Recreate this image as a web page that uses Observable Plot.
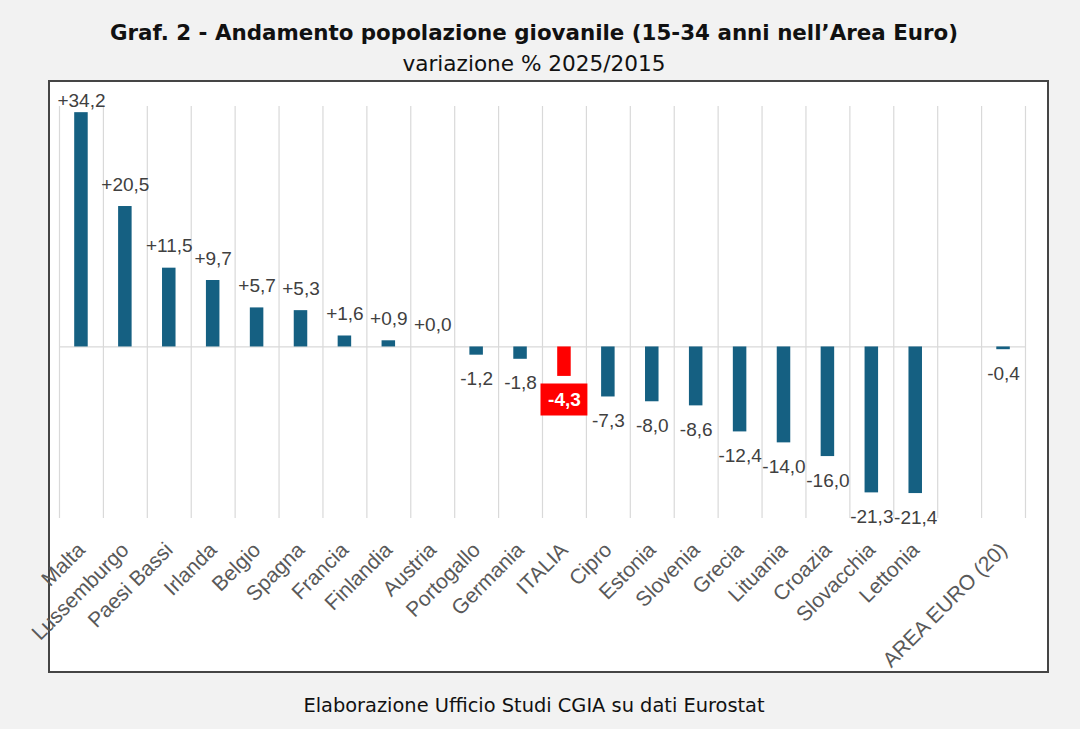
<!DOCTYPE html>
<html>
<head>
<meta charset="utf-8">
<script src="https://cdn.jsdelivr.net/npm/d3@7"></script>
<script src="https://cdn.jsdelivr.net/npm/@observablehq/plot@0.6"></script>
<style>
  html, body { margin: 0; padding: 0; background: #f2f2f2; }
  body { width: 1080px; height: 729px; position: relative; overflow: hidden; }
  .t { position: absolute; left: 0; width: 1068px; text-align: center; color: #111; font-family: "DejaVu Sans", Verdana, sans-serif; line-height: normal; white-space: nowrap; }
  #title { top: 20px; font-size: 21.4px; font-weight: bold; }
  #subtitle { top: 51px; font-size: 21.6px; }
  #caption { top: 694px; font-size: 19.4px; }
  #box { position: absolute; left: 48px; top: 80px; width: 1001px; height: 593px; box-sizing: border-box; border: 2px solid #454545; background: #fff; }
  #chart { position: absolute; left: 0; top: 0; }
</style>
</head>
<body>
<div class="t" id="title">Graf. 2 - Andamento popolazione giovanile (15-34 anni nell’Area Euro)</div>
<div class="t" id="subtitle">variazione % 2025/2015</div>
<div id="box"><div id="chart"></div></div>
<div class="t" id="caption">Elaborazione Ufficio Studi CGIA su dati Eurostat</div>
<script>
// ---- data ----
const countries = ["Malta","Lussemburgo","Paesi Bassi","Irlanda","Belgio","Spagna","Francia","Finlandia","Austria","Portogallo","Germania","ITALIA","Cipro","Estonia","Slovenia","Grecia","Lituania","Croazia","Slovacchia","Lettonia","AREA EURO (20)"];
const values = [34.2, 20.5, 11.5, 9.7, 5.7, 5.3, 1.6, 0.9, 0.0, -1.2, -1.8, -4.3, -7.3, -8.0, -8.6, -12.4, -14.0, -16.0, -21.3, -21.4, -0.4];
const xOrder = ["Malta","Lussemburgo","Paesi Bassi","Irlanda","Belgio","Spagna","Francia","Finlandia","Austria","Portogallo","Germania","ITALIA","Cipro","Estonia","Slovenia","Grecia","Lituania","Croazia","Slovacchia","Lettonia"," ","AREA EURO (20)"];
const highlight = ["ITALIA"];

const data = countries.map((c, i) => ({name: c, value: values[i]}));
const fmt = v => (v >= 0 ? "+" : "") + v.toFixed(1).replace(".", ",");

const W = 997, H = 589;
const mL = 9, mR = 22, mT = 24, mB = 153;
const step = (W - mL - mR) / xOrder.length;
const blue = "#156082", red = "#ff0000", txt = "#404040", tick = "#595959", grid = "#d9d9d9";

const isHi = d => highlight.includes(d.name);
const plot = Plot.plot({
  width: W, height: H,
  marginLeft: mL, marginRight: mR, marginTop: mT, marginBottom: mB,
  style: {background: "transparent", fontFamily: "'Liberation Sans', Arial, sans-serif", color: txt, overflow: "visible"},
  x: {domain: xOrder, padding: 0, round: false, axis: null, label: null},
  y: {domain: [-25.04, 35.1], axis: null},
  marks: [
    Plot.ruleX(xOrder, {x: d => d, dx: -step / 2, stroke: grid, strokeWidth: 1.2}),
    Plot.ruleX(xOrder.slice(-1), {x: d => d, dx: step / 2, stroke: grid, strokeWidth: 1.2}),
    Plot.ruleY([0], {stroke: grid, strokeWidth: 1.2}),
    Plot.barY(data, {x: "name", y: "value", fill: d => isHi(d) ? red : blue, insetLeft: 15.2, insetRight: 15.2}),
    // positive labels
    Plot.text(data.filter(d => d.value >= 0 && d.value < 30), {x: "name", y: "value", text: d => fmt(d.value), dy: -22, fontSize: 19, fill: txt}),
    Plot.text(data.filter(d => d.value >= 30), {x: "name", frameAnchor: "top", lineAnchor: "middle", text: d => fmt(d.value), dy: -6, fontSize: 19, fill: txt}),
    // negative labels
    Plot.text(data.filter(d => d.value < 0 && !isHi(d)), {x: "name", y: "value", text: d => fmt(d.value), dy: 24, fontSize: 19, fill: txt}),
    // highlighted label box
    Plot.tickY(data.filter(isHi), {x: "name", y: "value", stroke: red, strokeWidth: 32, dy: 23, insetLeft: -1.5, insetRight: -1.5}),
    Plot.text(data.filter(isHi), {x: "name", y: "value", text: d => fmt(d.value), dy: 23, fontSize: 19, fontWeight: "bold", fill: "#fff"}),
    // category labels under the frame
    Plot.text(xOrder, {x: d => d, text: d => d, frameAnchor: "bottom", rotate: -45, textAnchor: "end", lineAnchor: "middle", dy: 28, dx: 0, fontSize: 21, fill: tick})
  ]
});
document.getElementById("chart").appendChild(plot);
</script>
</body>
</html>
